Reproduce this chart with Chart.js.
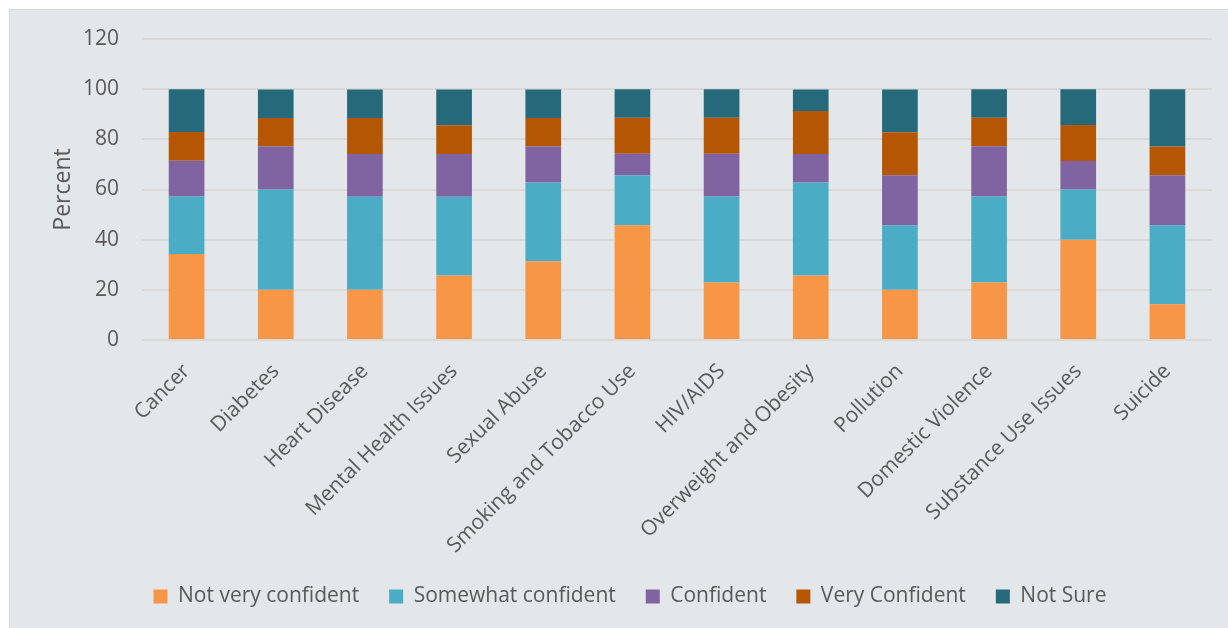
<!DOCTYPE html>
<html>
<head>
<meta charset="utf-8">
<script src="https://cdn.jsdelivr.net/npm/chart.js@4"></script>
<style>
    html, body { margin: 0; padding: 0; background: #ffffff; }
    #wrap {
        position: absolute;
        left: 9px;
        top: 9px;
        width: 1218px;
        height: 618px;
        background: #e3e7ea;
        border-top: 1px solid #d6d8da;
        border-left: 1px solid #d6d8da;
    }
    #wrap canvas { display: block; }
</style>
</head>
<body>
<div id="wrap"><canvas id="bar-chart" width="1218" height="618"></canvas></div>
<script>
// Survey topics and share of answers (percent) per confidence level
const topics = ['Cancer', 'Diabetes', 'Heart Disease', 'Mental Health Issues', 'Sexual Abuse',
    'Smoking and Tobacco Use', 'HIV/AIDS', 'Overweight and Obesity', 'Pollution',
    'Domestic Violence', 'Substance Use Issues', 'Suicide'];

const notVeryConfident = [34.3, 20, 20, 25.7, 31.4, 45.7, 22.9, 25.7, 20, 22.9, 40, 14.3];
const somewhatConfident = [22.9, 40, 37.1, 31.4, 31.4, 20, 34.3, 37.1, 25.7, 34.3, 20, 31.4];
const confident = [14.3, 17.1, 17.1, 17.1, 14.3, 8.6, 17.1, 11.4, 20, 20, 11.4, 20];
const veryConfident = [11.4, 11.4, 14.3, 11.4, 11.4, 14.3, 14.3, 17.1, 17.1, 11.4, 14.3, 11.4];
const notSure = [17.1, 11.4, 11.4, 14.3, 11.4, 11.4, 11.4, 8.6, 17.1, 11.4, 14.3, 22.9];

const yTicks = [0, 20, 40, 60, 80, 100, 120];

const textColor = '#595959';
const fontFamily = '"Open Sans", "Noto Sans", sans-serif';

const series = [
    { label: 'Not very confident', data: notVeryConfident, color: '#f79646' },
    { label: 'Somewhat confident', data: somewhatConfident, color: '#4bacc6' },
    { label: 'Confident', data: confident, color: '#8064a2' },
    { label: 'Very Confident', data: veryConfident, color: '#b55605' },
    { label: 'Not Sure', data: notSure, color: '#25697a' }
];

const ctx = document.getElementById('bar-chart');
const chart = new Chart(ctx, {
    type: 'bar',
    data: {
        labels: topics,
        datasets: series.map(s => ({
            label: s.label,
            data: s.data,
            backgroundColor: s.color,
            borderWidth: 0,
            barPercentage: 0.4,
            categoryPercentage: 1
        }))
    },
    options: {
        responsive: false,
        animation: false,
        layout: {
            padding: { left: 38, right: 16, top: 29, bottom: 11 }
        },
        plugins: {
            tooltip: { enabled: false },
            legend: {
                position: 'bottom',
                labels: {
                    color: textColor,
                    font: { family: fontFamily, size: 21 },
                    boxWidth: 14,
                    boxHeight: 14,
                    padding: 30
                }
            }
        },
        scales: {
            x: {
                stacked: true,
                grid: { display: false, drawTicks: false },
                border: { display: false },
                ticks: {
                    color: textColor,
                    font: { family: fontFamily, size: 21 },
                    minRotation: 45,
                    maxRotation: 45,
                    padding: 19,
                    autoSkip: false
                },
                afterFit: scale => { scale.height = 216; }
            },
            y: {
                stacked: true,
                min: 0,
                max: 120,
                afterBuildTicks: scale => {
                    scale.ticks = yTicks.map(v => ({ value: v }));
                },
                grid: { color: '#d9d9d9', lineWidth: 2, drawTicks: false },
                border: { display: false },
                ticks: {
                    color: textColor,
                    font: { family: fontFamily, size: 21 },
                    padding: 23
                },
                title: {
                    display: true,
                    text: 'Percent',
                    color: textColor,
                    font: { family: fontFamily, size: 23 },
                    padding: { top: 2, bottom: 0 }
                },
                // fixed axis width; tick padding should not push the plot down
                afterFit: scale => {
                    scale.width = 94;
                    scale.paddingTop = 0;
                    scale.paddingBottom = 0;
                }
            }
        }
    }
});
</script>
</body>
</html>
